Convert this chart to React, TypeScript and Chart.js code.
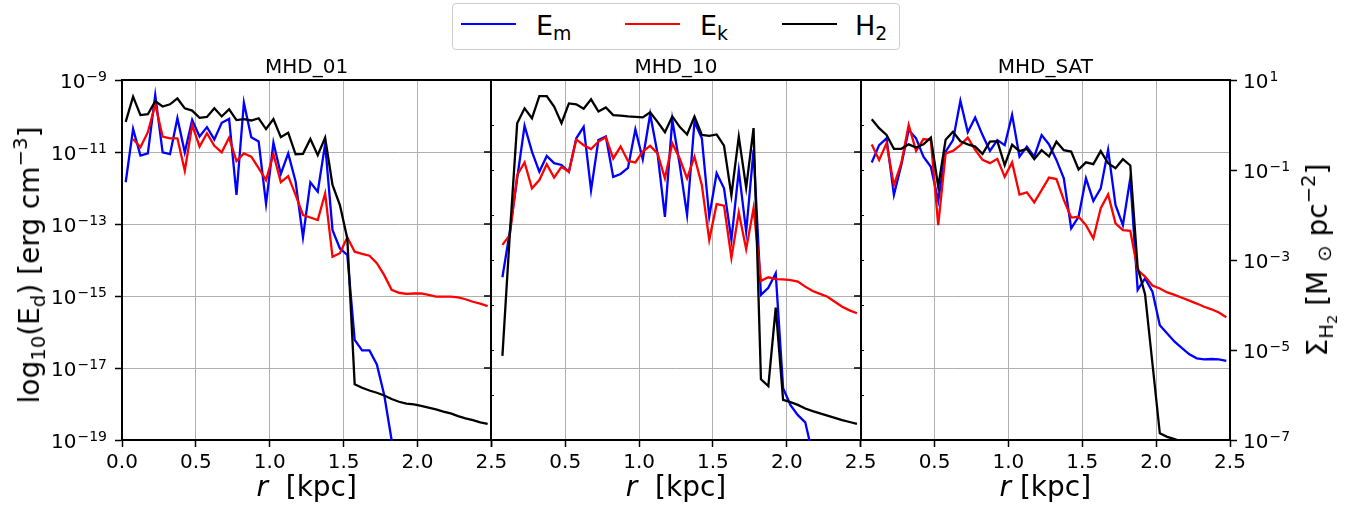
import React, { useEffect, useRef } from "react";
import { Chart, registerables } from "chart.js";

Chart.register(...registerables);

// ---------------- data (log10 values) ----------------
const R_KPC = [
  0.025, 0.075, 0.125, 0.175, 0.225, 0.275, 0.325, 0.375, 0.425, 0.475,
  0.525, 0.575, 0.625, 0.675, 0.725, 0.775, 0.825, 0.875, 0.925, 0.975,
  1.025, 1.075, 1.125, 1.175, 1.225, 1.275, 1.325, 1.375, 1.425, 1.475,
  1.525, 1.575, 1.625, 1.675, 1.725, 1.775, 1.825, 1.875, 1.925, 1.975,
  2.025, 2.075, 2.125, 2.175, 2.225, 2.275, 2.325, 2.375, 2.425, 2.475,
];

const X_TICKS = [0, 0.5, 1.0, 1.5, 2.0, 2.5];
const LEFT_TICKS = [-19, -17, -15, -13, -11, -9];
const RIGHT_TICKS = [-7, -5, -3, -1, 1];
const RIGHT_MINOR = [1, 0, -1, -2, -3, -4, -5, -6, -7];
const PANEL_TITLES = ["MHD_01", "MHD_10", "MHD_SAT"];

// log10(E_m) [erg cm^-3]
const EM_MHD01 = [
  -11.84, -10.36, -11.10, -11.04, -9.42, -11.01, -11.06, -10.06, -11.01, -10.11,
  -10.57, -10.31, -10.65, -10.19, -10.08, -12.19, -9.63, -10.59, -10.71, -12.44,
  -10.74, -11.61, -11.04, -11.82, -13.37, -11.84, -12.10, -10.78, -13.17, -13.68,
  -13.86, -16.22, -16.51, -16.51, -16.90, -17.75, -19.0, -20.3, null, null,
  null, null, null, null, null, null, null, null, null, null,
];
// log10(E_k) [erg cm^-3]
const EK_MHD01 = [
  null, -10.64, -10.87, -10.45, -9.68, -10.57, -10.62, -10.62, -11.52, -10.25,
  -10.85, -10.48, -10.83, -11.01, -10.60, -11.25, -11.04, -11.13, -11.45, -11.78,
  -11.06, -11.84, -11.67, -12.19, -12.75, -12.82, -12.89, -12.15, -13.91, -13.81,
  -13.37, -13.77, -13.83, -13.88, -14.09, -14.42, -14.83, -14.91, -14.94, -14.93,
  -14.93, -14.97, -15.02, -15.02, -15.02, -15.04, -15.09, -15.16, -15.21, -15.28,
];
// log10(Sigma_H2) [Msun pc^-2]
const H2_MHD01 = [
  0.07, 0.63, 0.22, 0.24, 0.53, 0.41, 0.46, 0.59, 0.37, 0.32,
  0.16, 0.18, 0.37, 0.19, 0.35, 0.11, 0.13, 0.10, 0.15, -0.09,
  0.13, -0.27, -0.17, -0.65, -0.64, -0.31, -0.67, -0.28, -1.33, -1.78,
  -2.52, -5.76, -5.84, -5.90, -5.95, -6.01, -6.09, -6.15, -6.19, -6.21,
  -6.24, -6.28, -6.32, -6.37, -6.41, -6.47, -6.52, -6.56, -6.61, -6.64,
];

const EM_MHD10 = [
  null, -14.48, -13.21, -11.73, -10.27, -10.99, -11.55, -11.11, -11.31, -11.36,
  -11.55, -10.62, -10.30, -12.06, -10.67, -10.57, -11.69, -11.61, -11.44, -10.37,
  -11.20, -9.95, -11.04, -12.80, -10.11, -11.35, -12.75, -10.16, -10.62, -12.80,
  -11.59, -12.01, -13.44, -11.52, -13.21, -10.94, -14.97, -14.77, -14.37, -17.56,
  -18.03, -18.31, -18.51, -19.4, null, null, null, null, null, null,
];
const EK_MHD10 = [
  null, -13.58, -13.31, -11.64, -11.29, -12.01, -11.78, -11.34, -11.71, -11.41,
  -11.55, -10.65, -10.81, -10.92, -10.71, -10.59, -11.18, -10.85, -11.25, -11.29,
  -10.99, -10.83, -11.04, -11.73, -10.76, -11.18, -11.73, -11.13, -11.92, -13.44,
  -12.45, -12.49, -13.94, -12.68, -13.70, -12.56, -14.58, -14.48, -14.53, -14.54,
  -14.56, -14.60, -14.74, -14.86, -14.94, -15.02, -15.16, -15.30, -15.40, -15.48,
];
const H2_MHD10 = [
  null, -5.13, -2.44, 0.04, 0.37, 0.15, 0.64, 0.64, 0.41, 0.04,
  0.48, 0.46, 0.36, 0.57, 0.30, 0.39, 0.22, 0.21, 0.19, 0.18,
  0.17, 0.28, 0.07, -0.16, 0.19, -0.04, -0.21, 0.19, -0.22, -0.24,
  -0.21, -0.46, -1.56, -0.26, -1.39, -0.07, -5.65, -5.80, -4.06, -6.11,
  -6.16, -6.22, -6.30, -6.36, -6.41, -6.46, -6.51, -6.56, -6.60, -6.64,
];

const EM_MHDSAT = [
  null, -11.29, -10.81, -10.62, -12.19, -11.36, -10.39, -10.62, -11.13, -11.41,
  -12.36, -10.99, -10.67, -9.58, -10.45, -10.04, -10.53, -10.97, -10.67, -10.81,
  -9.97, -11.13, -10.85, -11.13, -10.53, -10.79, -11.22, -11.73, -13.12, -12.80,
  -11.73, -12.36, -12.01, -10.94, -12.47, -13.03, -11.73, -14.83, -14.51, -14.88,
  -15.81, -16.04, -16.27, -16.45, -16.62, -16.73, -16.76, -16.75, -16.76, -16.80,
];
const EK_MHDSAT = [
  null, -10.79, -11.22, -10.76, -11.92, -11.31, -10.25, -10.97, -10.64, -10.67,
  -13.03, -11.04, -10.97, -10.81, -10.60, -10.94, -11.22, -11.31, -11.19, -11.69,
  -11.29, -12.18, -12.12, -12.40, -12.06, -11.71, -11.75, -12.33, -12.82, -12.80,
  -13.03, -13.40, -12.56, -12.18, -12.98, -13.17, -13.19, -14.28, -14.46, -14.71,
  -14.79, -14.90, -14.97, -15.05, -15.13, -15.21, -15.30, -15.37, -15.46, -15.59,
];
const H2_MHDSAT = [
  null, 0.13, -0.07, -0.22, -0.53, -0.53, -0.43, -0.50, -0.43, -0.28,
  -1.37, -0.33, -0.15, -0.36, -0.43, -0.48, -0.64, -0.37, -0.36, -0.89,
  -0.44, -0.58, -0.53, -0.76, -0.56, -0.70, -0.37, -0.56, -0.59, -0.99,
  -0.83, -0.87, -0.58, -0.85, -0.96, -0.76, -0.90, -3.17, -3.76, -5.30,
  -6.85, -6.93, -6.98, -7.04, -7.08, -7.10, -7.12, -7.14, -7.16, -7.18,
];

// ---------------- layout / style ----------------
const W = 1357;
const H = 513;
const LEFT_W = 122;
const RIGHT_W = 127;
const TOP = 80;
const BOTTOM_H = 73;
const FONT = '"DejaVu Sans", sans-serif';
const C_EM = "#0000ff";
const C_EK = "#ff0000";
const C_H2 = "#000000";
const GRID = "#b0b0b0";

const PANEL_W = (W - LEFT_W - RIGHT_W) / 3;

const pts = (vals: (number | null)[]) =>
  R_KPC.map((r, i) => ({ x: r, y: vals[i] === undefined ? null : vals[i] }));

const PANEL_DATA = [
  { id: "x1", em: EM_MHD01, ek: EK_MHD01, h2: H2_MHD01 },
  { id: "x2", em: EM_MHD10, ek: EK_MHD10, h2: H2_MHD10 },
  { id: "x3", em: EM_MHDSAT, ek: EK_MHDSAT, h2: H2_MHDSAT },
];

function buildConfig(): any {
  const common = {
    borderWidth: 2.3,
    pointRadius: 0,
    pointHoverRadius: 0,
    fill: false,
    tension: 0,
    spanGaps: false,
    clip: 1,
  };
  const datasets: any[] = [];
  PANEL_DATA.forEach((p) => {
    datasets.push({ ...common, label: "H2", data: pts(p.h2), xAxisID: p.id, yAxisID: "yR", borderColor: C_H2, order: 0 });
    datasets.push({ ...common, label: "Ek", data: pts(p.ek), xAxisID: p.id, yAxisID: "yL", borderColor: C_EK, order: 1 });
    datasets.push({ ...common, label: "Em", data: pts(p.em), xAxisID: p.id, yAxisID: "yL", borderColor: C_EM, order: 2 });
  });

  const xScale = (idx: number) => ({
    type: "linear",
    axis: "x",
    position: "bottom",
    stack: "panels",
    stackWeight: 1,
    min: 0,
    max: 2.5,
    afterBuildTicks: (s: any) => {
      s.ticks = X_TICKS.map((v) => ({ value: v }));
    },
    afterFit: (s: any) => {
      s.height = BOTTOM_H;
    },
    ticks: {
      autoSkip: false,
      maxRotation: 0,
      minRotation: 0,
      padding: 4,
      color: "#000",
      font: { family: FONT, size: 20, lineHeight: 1.2 },
      callback: (v: any) => (idx > 0 && Number(v) === 0 ? "" : Number(v).toFixed(1)),
    },
    grid: { color: GRID, lineWidth: 1, tickColor: "#000", tickLength: 7, tickWidth: 1.5, drawTicks: true },
    border: { display: true, color: "#000", width: 2 },
  });

  const separatorAndLabels = {
    id: "separatorAndLabels",
    afterDraw(chart: any) {
      const { ctx, chartArea: a, scales } = chart;
      const yl = scales.yL;
      const yr = scales.yR;
      ctx.save();
      ctx.strokeStyle = "#000";
      // top spine
      ctx.lineWidth = 2;
      ctx.beginPath();
      ctx.moveTo(a.left - 1, Math.round(a.top));
      ctx.lineTo(a.right + 1, Math.round(a.top));
      ctx.stroke();
      // panel separators (spines of panels 2 and 3)
      ["x2", "x3"].forEach((id) => {
        const x = Math.round(scales[id].left);
        ctx.lineWidth = 2;
        ctx.beginPath();
        ctx.moveTo(x, a.top);
        ctx.lineTo(x, a.bottom);
        ctx.stroke();
        ctx.lineWidth = 1.5;
        yl.ticks.forEach((t: any) => {
          const y = Math.round(yl.getPixelForValue(t.value));
          ctx.beginPath();
          ctx.moveTo(x - 7, y);
          ctx.lineTo(x, y);
          ctx.stroke();
        });
        ctx.lineWidth = 1;
        RIGHT_MINOR.forEach((v) => {
          const y = Math.round(yr.getPixelForValue(v)) + 0.5;
          ctx.beginPath();
          ctx.moveTo(x, y);
          ctx.lineTo(x + 3, y);
          ctx.stroke();
        });
      });
      // tick labels 10^n
      ctx.fillStyle = "#000";
      ctx.textBaseline = "alphabetic";
      ctx.textAlign = "left";
      const baseFont = `20px ${FONT}`;
      const expFont = `14px ${FONT}`;
      const expText = (v: number) => (v < 0 ? "\u2212" + Math.abs(v) : String(v));
      yl.ticks.forEach((t: any) => {
        const y = Math.round(yl.getPixelForValue(t.value));
        const e = expText(t.value);
        ctx.font = expFont;
        const we = ctx.measureText(e).width;
        ctx.font = baseFont;
        const wb = ctx.measureText("10").width;
        const right = a.left - 7 - 8;
        ctx.fillText("10", right - we - wb - 1, y + 7.5);
        ctx.font = expFont;
        ctx.fillText(e, right - we, y + 0.5);
      });
      yr.ticks.forEach((t: any) => {
        const y = Math.round(yr.getPixelForValue(t.value));
        const e = expText(t.value);
        const left = a.right + 7 + 6;
        ctx.font = baseFont;
        const wb = ctx.measureText("10").width;
        ctx.fillText("10", left, y + 7.5);
        ctx.font = expFont;
        ctx.fillText(e, left + wb + 1, y + 0.5);
      });
      ctx.restore();
    },
  };

  return {
    type: "line",
    data: { datasets },
    options: {
      animation: false,
      responsive: false,
      maintainAspectRatio: false,
      devicePixelRatio: 1,
      events: [],
      layout: { padding: { top: TOP, left: 0, right: 0, bottom: 0 } },
      plugins: {
        legend: { display: false },
        tooltip: { enabled: false },
        title: { display: false },
      },
      scales: {
        x1: xScale(0),
        x2: xScale(1),
        x3: xScale(2),
        yL: {
          type: "linear",
          axis: "y",
          position: "left",
          min: -19,
          max: -9,
          afterBuildTicks: (s: any) => {
            s.ticks = LEFT_TICKS.map((v) => ({ value: v }));
          },
          afterFit: (s: any) => {
            s.width = LEFT_W;
          },
          ticks: { display: false },
          grid: { color: GRID, lineWidth: 1, tickColor: "#000", tickLength: 7, tickWidth: 1.5 },
          border: { display: true, color: "#000", width: 2 },
        },
        yR: {
          type: "linear",
          axis: "y",
          position: "right",
          min: -7,
          max: 1,
          afterBuildTicks: (s: any) => {
            s.ticks = RIGHT_TICKS.map((v) => ({ value: v }));
          },
          afterFit: (s: any) => {
            s.width = RIGHT_W;
          },
          ticks: { display: false },
          grid: { drawOnChartArea: false, color: GRID, tickColor: "#000", tickLength: 7, tickWidth: 1.5 },
          border: { display: true, color: "#000", width: 2 },
        },
      },
    },
    plugins: [separatorAndLabels],
  };
}

// ---------------- small text helpers ----------------
const Sub = ({ children, s = 0.7, d = 0.3 }: any) => (
  <span style={{ fontSize: `${s}em`, position: "relative", top: `${d}em` }}>{children}</span>
);
const Sup = ({ children, s = 0.7, d = -0.6 }: any) => (
  <span style={{ fontSize: `${s}em`, position: "relative", top: `${d}em` }}>{children}</span>
);

const abs = (left: number, top: number, extra: any = {}) => ({
  position: "absolute" as const,
  left,
  top,
  whiteSpace: "nowrap" as const,
  lineHeight: 1,
  ...extra,
});

export default function App() {
  const ref = useRef<HTMLCanvasElement>(null);
  useEffect(() => {
    document.body.style.margin = "0";
    const chart = new Chart(ref.current as HTMLCanvasElement, buildConfig());
    return () => chart.destroy();
  }, []);

  const centers = [0, 1, 2].map((i) => LEFT_W + PANEL_W * (i + 0.5));

  return (
    <div
      style={{
        position: "absolute",
        left: 0,
        top: 0,
        width: W,
        height: H,
        overflow: "hidden",
        background: "#fff",
        color: "#000",
        fontFamily: FONT,
      }}
    >
      <canvas
        ref={ref}
        width={W}
        height={H}
        style={{ position: "absolute", left: 0, top: 0, width: W, height: H }}
      />

      {/* legend */}
      <div
        style={{
          position: "absolute",
          left: 452,
          top: 3,
          width: 448,
          height: 47,
          boxSizing: "border-box",
          border: "1px solid #cccccc",
          borderRadius: 4,
          background: "#fff",
        }}
      />
      <div style={abs(461, 23, { width: 55, height: 2, background: C_EM })} />
      <div style={abs(625, 23, { width: 55, height: 2, background: C_EK })} />
      <div style={abs(782, 23, { width: 55, height: 2, background: C_H2 })} />
      <div style={abs(536, 12, { fontSize: 27 })}>
        E<Sub d={0.25}>m</Sub>
      </div>
      <div style={abs(700, 12, { fontSize: 27 })}>
        E<Sub d={0.25}>k</Sub>
      </div>
      <div style={abs(855, 12, { fontSize: 27 })}>
        H<Sub d={0.25}>2</Sub>
      </div>

      {/* panel titles */}
      {PANEL_TITLES.map((t, i) => (
        <div key={t} style={abs(centers[i], 56, { fontSize: 20, transform: "translateX(-50%)" })}>
          {t}
        </div>
      ))}

      {/* x axis titles */}
      {[0, 1, 2].map((i) => (
        <div key={i} style={abs(centers[i], 473, { fontSize: 28, transform: "translateX(-50%)" })}>
          <i>r</i>
          {i < 2 ? "\u00a0\u00a0" : "\u00a0"}[kpc]
        </div>
      ))}

      {/* left y title */}
      <div
        style={abs(30, 265, {
          fontSize: 28,
          transform: "translate(-50%, -50%) rotate(-90deg)",
        })}
      >
        log<Sub d={0.3}>10</Sub>(E<Sub d={0.3}>d</Sub>) [erg cm<Sup>−3</Sup>]
      </div>

      {/* right y title */}
      <div
        style={abs(1318, 260, {
          fontSize: 28,
          transform: "translate(-50%, -50%) rotate(-90deg)",
        })}
      >
        Σ<Sub d={0.3}>H<Sub s={0.75} d={0.3}>2</Sub></Sub> [M <Sub d={0.2}>⊙</Sub> pc<Sup>−2</Sup>]
      </div>
    </div>
  );
}
